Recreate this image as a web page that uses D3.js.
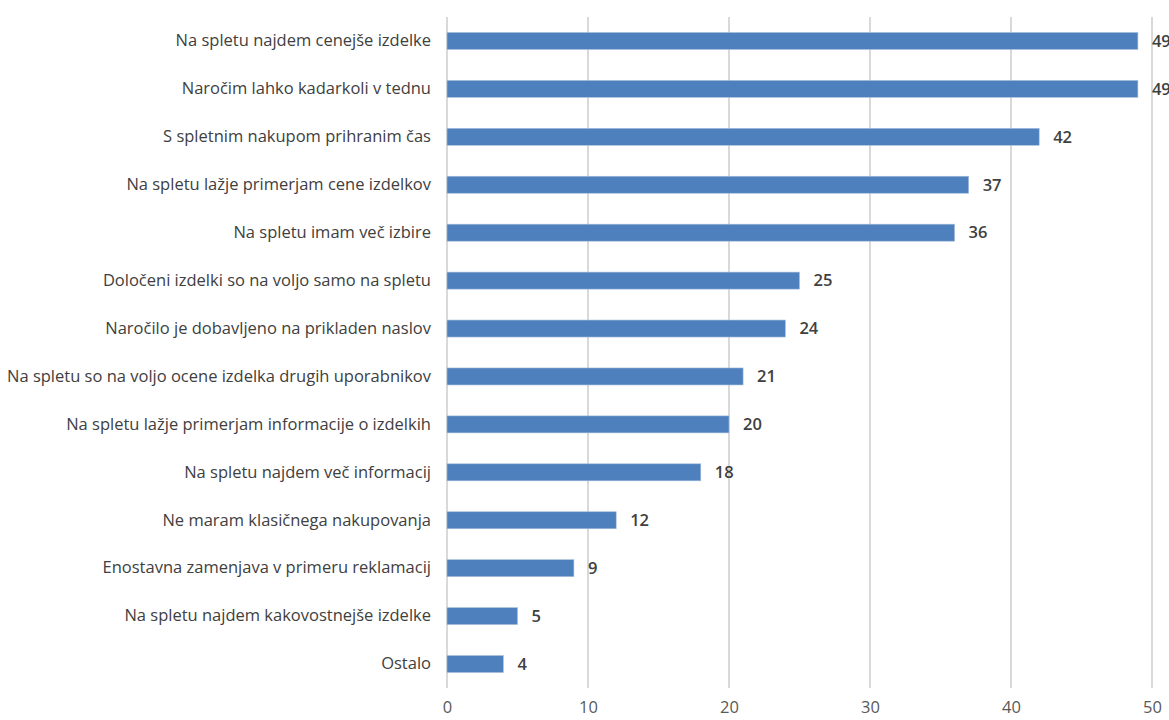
<!DOCTYPE html>
<html>
<head>
<meta charset="utf-8">
<script src="https://cdn.jsdelivr.net/npm/d3@7"></script>
<style>
  body { margin: 0; background: #fff; }
  svg { display: block; font-family: "Open Sans", sans-serif; }
</style>
</head>
<body>
<svg id="chart" width="1169" height="720"></svg>
<script>
// Reasons for shopping online (number of respondents)
const categories = [
  "Na spletu najdem cenejše izdelke",
  "Naročim lahko kadarkoli v tednu",
  "S spletnim nakupom prihranim čas",
  "Na spletu lažje primerjam cene izdelkov",
  "Na spletu imam več izbire",
  "Določeni izdelki so na voljo samo na spletu",
  "Naročilo je dobavljeno na prikladen naslov",
  "Na spletu so na voljo ocene izdelka drugih uporabnikov",
  "Na spletu lažje primerjam informacije o izdelkih",
  "Na spletu najdem več informacij",
  "Ne maram klasičnega nakupovanja",
  "Enostavna zamenjava v primeru reklamacij",
  "Na spletu najdem kakovostnejše izdelke",
  "Ostalo"
];
const values = [49, 49, 42, 37, 36, 25, 24, 21, 20, 18, 12, 9, 5, 4];
const xTicks = [0, 10, 20, 30, 40, 50];

const svg = d3.select("#chart");
const plotLeft = 447, plotRight = 1152, plotTop = 17, plotBottom = 688;

const x = d3.scaleLinear().domain([0, 50]).range([plotLeft, plotRight]);
const y = d3.scaleBand().domain(categories).range([plotTop, plotBottom]).paddingInner(0.645).paddingOuter(0.3225);

// vertical gridlines
svg.append("g").selectAll("line").data(xTicks).join("line")
  .attr("x1", d => x(d)).attr("x2", d => x(d))
  .attr("y1", plotTop).attr("y2", plotBottom)
  .attr("stroke", "#d9d9d9").attr("stroke-width", 2);

// x axis tick labels
const xAxis = d3.axisBottom(x).tickValues(xTicks).tickSize(0).tickPadding(0);
const gx = svg.append("g").attr("transform", `translate(0,${plotBottom + 13})`).call(xAxis);
gx.select(".domain").remove();
gx.selectAll("text").attr("font-size", 16.5).attr("fill", "#595959")
  .attr("font-family", "Open Sans, sans-serif").attr("dy", "0.71em");

// bars
svg.append("g").selectAll("rect").data(values).join("rect")
  .attr("x", x(0))
  .attr("y", (d, i) => y(categories[i]))
  .attr("width", d => x(d) - x(0))
  .attr("height", y.bandwidth())
  .attr("fill", "#4e80bd")
  .attr("stroke", "#a9c0dd").attr("stroke-width", 0.6);

// category labels
const yAxis = d3.axisLeft(y).tickSize(0).tickPadding(16);
const gy = svg.append("g").attr("transform", `translate(${x(0)},0)`).call(yAxis);
gy.select(".domain").remove();
gy.selectAll("text").attr("font-size", 16.5).attr("fill", "#404040")
  .attr("font-family", "Open Sans, sans-serif");

// value labels
svg.append("g").selectAll("text").data(values).join("text")
  .attr("x", d => x(d) + 14)
  .attr("y", (d, i) => y(categories[i]) + y.bandwidth() / 2)
  .attr("dy", "0.35em")
  .attr("font-size", 16.5).attr("font-weight", 600).attr("fill", "#404040")
  .text(d => d);
</script>
</body>
</html>
